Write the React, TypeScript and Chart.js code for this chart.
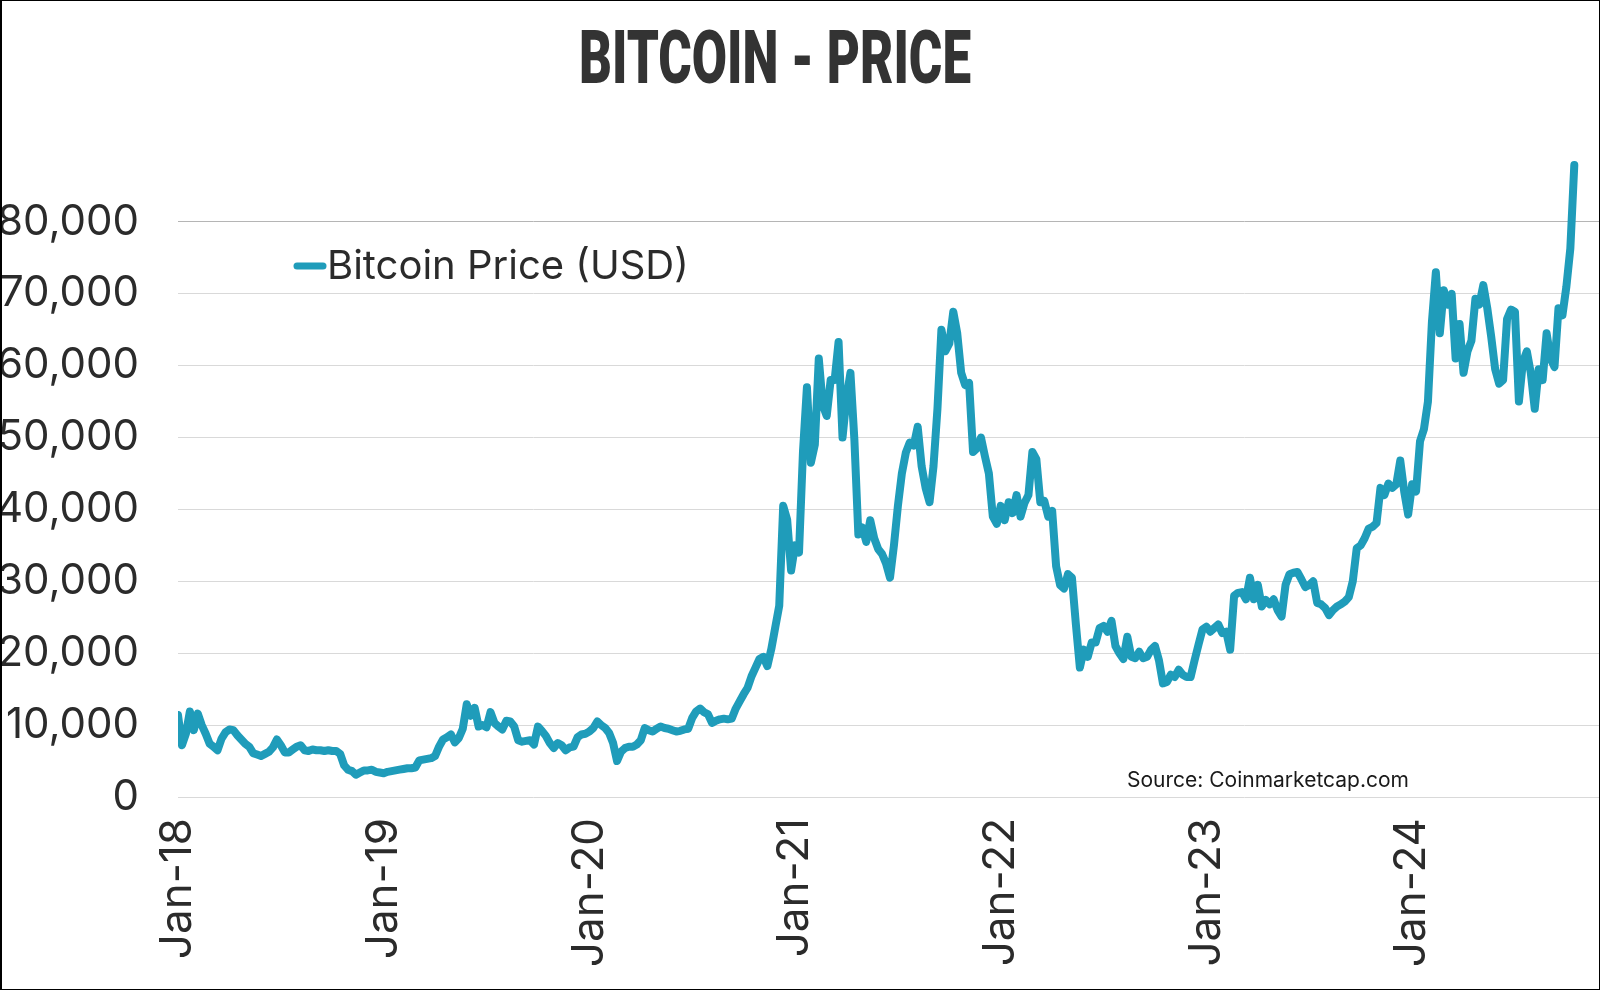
import React, { useEffect, useRef } from "react";
import { Chart, registerables } from "chart.js";

Chart.register(...registerables);

const TITLE = "BITCOIN - PRICE";
const SERIES_LABEL = "Bitcoin Price (USD)";
const SOURCE = "Source: Coinmarketcap.com";
const LINE_COLOR = "#1f9cba";
const TEXT_COLOR = "#2b2b2b";

// x-axis tick labels, one per year (52 weekly points per year)
const xTickLabels = ["Jan-18", "Jan-19", "Jan-20", "Jan-21", "Jan-22", "Jan-23", "Jan-24"];
const WEEKS_PER_YEAR = 52;
const X_MAX_WEEK = 359.5;

const Y_MAX = 90000;
const Y_STEP = 10000;
const Y_LAST_LABELLED = 80000;

// weekly closing prices (USD)
const price2018 = [11400, 7200, 8800, 11900, 9300, 11600, 10000, 8800, 7400, 7000, 6500, 8100, 9000, 9400, 9300, 8600, 8000, 7400, 7000, 6100, 5900, 5700, 6000, 6300, 6900, 8000, 7200, 6200, 6200, 6600, 7000, 7200, 6500, 6400, 6600, 6500, 6500, 6400, 6500, 6400, 6400, 6000, 4400, 3800, 3600, 3100, 3400, 3700, 3700, 3800, 3500, 3400];
const price2019 = [3300, 3500, 3600, 3700, 3800, 3900, 4000, 4000, 4100, 5100, 5200, 5300, 5400, 5700, 7000, 8000, 8300, 8700, 7600, 8200, 9500, 12900, 11300, 12400, 9800, 10000, 9700, 11800, 10300, 9800, 9400, 10600, 10500, 9800, 7900, 7700, 7800, 7900, 7300, 9800, 9200, 8500, 7500, 6800, 7500, 7200, 6500, 6900, 7000, 8300, 8700, 8800];
const price2020 = [9100, 9600, 10500, 10000, 9600, 8900, 7500, 5000, 6300, 6800, 7000, 7000, 7300, 7900, 9600, 9300, 9100, 9500, 9800, 9600, 9500, 9300, 9100, 9200, 9400, 9500, 11000, 11900, 12300, 11800, 11500, 10300, 10600, 10800, 10900, 10800, 10900, 12300, 13300, 14300, 15200, 16800, 18000, 19200, 19500, 18200, 20600, 23600, 26600, 40500, 38600, 31500];
const price2021 = [35000, 34000, 48000, 57000, 46500, 49000, 61000, 54500, 53000, 58000, 58000, 63300, 50000, 55500, 59000, 49700, 36500, 37500, 35500, 38500, 36000, 34500, 33800, 32500, 30500, 35000, 40500, 45000, 47900, 49300, 48900, 51500, 46000, 43000, 41000, 46000, 54000, 65000, 62000, 63100, 67500, 64500, 59000, 57300, 57600, 48000, 48500, 50000, 47400, 45000, 39000, 38000];
const price2022 = [40500, 38500, 41000, 39500, 42000, 39000, 40900, 42000, 48000, 47000, 41000, 41200, 39000, 39800, 32100, 29500, 29000, 31000, 30500, 24000, 18000, 20500, 19500, 21500, 21500, 23500, 23800, 23000, 24500, 21000, 20000, 19200, 22300, 19500, 19300, 20200, 19300, 19500, 20500, 21000, 19000, 15800, 16000, 17000, 16700, 17700, 17000, 16700, 16700, 19000, 21200, 23300];
const price2023 = [23700, 23000, 23500, 24000, 22800, 23000, 20500, 28000, 28400, 28500, 27500, 30500, 27500, 29500, 26500, 27400, 26800, 27500, 26000, 25100, 29500, 31000, 31200, 31300, 30300, 29200, 29500, 30000, 27000, 26800, 26300, 25300, 26000, 26500, 26800, 27200, 27800, 30000, 34600, 35000, 36000, 37300, 37600, 38100, 43000, 42000, 43600, 43000, 43500, 46800, 42500, 39300];
const price2024 = [43500, 42500, 49500, 51200, 55000, 66000, 73000, 64500, 70500, 68500, 70000, 61000, 65800, 59000, 62000, 63500, 69300, 68500, 71200, 68000, 64000, 59500, 57500, 58000, 66500, 67800, 67500, 55000, 60500, 62000, 59000, 54000, 59500, 58000, 64500, 61000, 59800, 68000, 67000, 71000, 76300, 87900];

const weeklyPrices = [...price2018, ...price2019, ...price2020, ...price2021, ...price2022, ...price2023, ...price2024];

const overlayPlugin = {
  id: "overlayText",
  afterDraw(chart: any) {
    const ctx = chart.ctx as CanvasRenderingContext2D;
    // Title (condensed)
    ctx.save();
    ctx.font = "900 75px Roboto";
    ctx.fillStyle = "#333333";
    ctx.textBaseline = "alphabetic";
    ctx.textAlign = "left";
    const tw = ctx.measureText(TITLE).width;
    ctx.translate(579, 83);
    ctx.scale(392 / tw, 1);
    ctx.fillText(TITLE, 0, 0);
    ctx.restore();

    // Legend inside plot
    const ds = chart.data.datasets[0];
    ctx.save();
    ctx.strokeStyle = ds.borderColor;
    ctx.lineWidth = 7;
    ctx.lineCap = "round";
    ctx.beginPath();
    ctx.moveTo(297, 266);
    ctx.lineTo(323, 266);
    ctx.stroke();
    ctx.font = "40px Inter";
    ctx.fillStyle = TEXT_COLOR;
    ctx.textBaseline = "alphabetic";
    ctx.textAlign = "left";
    ctx.fillText(ds.label, 327, 279);
    ctx.restore();

    // Source note
    ctx.save();
    ctx.font = "21px Inter";
    ctx.fillStyle = "#1a1a1a";
    ctx.textBaseline = "alphabetic";
    ctx.textAlign = "left";
    ctx.fillText(SOURCE, 1127, 787);
    ctx.restore();
  },
};

export default function App() {
  const canvasRef = useRef<HTMLCanvasElement | null>(null);

  useEffect(() => {
    const canvas = canvasRef.current;
    if (!canvas) return;
    const points = weeklyPrices.map((v, i) => ({ x: i, y: v }));
    const chart = new Chart(canvas, {
      type: "line",
      data: {
        datasets: [
          {
            label: SERIES_LABEL,
            data: points,
            borderColor: LINE_COLOR,
            backgroundColor: LINE_COLOR,
            borderWidth: 8,
            pointRadius: 0,
            tension: 0,
            fill: false,
            borderJoinStyle: "round",
            borderCapStyle: "round",
          },
        ],
      },
      options: {
        animation: false,
        responsive: false,
        devicePixelRatio: 1,
        layout: { padding: { top: 150, left: 0, right: 0, bottom: 0 } },
        plugins: {
          legend: { display: false },
          title: { display: false },
          tooltip: { enabled: false },
        },
        scales: {
          x: {
            type: "linear",
            min: 0,
            max: X_MAX_WEEK,
            grid: { display: false, drawTicks: false },
            border: { display: false },
            ticks: {
              stepSize: WEEKS_PER_YEAR,
              includeBounds: false,
              autoSkip: false,
              maxRotation: 90,
              minRotation: 90,
              padding: 21,
              color: TEXT_COLOR,
              font: { family: "Inter", size: 44 },
              callback: (v: any) => xTickLabels[Math.round(Number(v) / WEEKS_PER_YEAR)] ?? "",
            },
            afterFit: (s: any) => {
              s.height = 193;
            },
          },
          y: {
            min: 0,
            max: Y_MAX,
            grid: {
              color: (c: any) => {
                const v = c.tick ? c.tick.value : 0;
                if (v > Y_LAST_LABELLED) return "rgba(0,0,0,0)";
                return v === Y_LAST_LABELLED ? "#b5b5b5" : "#d9d9d9";
              },
              lineWidth: 1,
              drawTicks: false,
            },
            border: { display: false },
            ticks: {
              stepSize: Y_STEP,
              padding: 39,
              color: TEXT_COLOR,
              font: { family: "Inter", size: 42 },
              callback: (v: any) => (Number(v) > Y_LAST_LABELLED ? "" : Number(v).toLocaleString("en-US")),
            },
            afterFit: (s: any) => {
              s.width = 178;
            },
          },
        },
      },
      plugins: [overlayPlugin],
    } as any);
    return () => chart.destroy();
  }, []);

  return (
    <div style={{ position: "fixed", left: 0, top: 0, width: 1600, height: 990, background: "#ffffff" }}>
      <canvas ref={canvasRef} width={1600} height={990} style={{ display: "block", width: 1600, height: 990 }} />
      <div
        style={{
          position: "absolute",
          inset: 0,
          boxSizing: "border-box",
          borderStyle: "solid",
          borderColor: "#000",
          borderWidth: "1px 1px 1px 2px",
          pointerEvents: "none",
        }}
      />
    </div>
  );
}
